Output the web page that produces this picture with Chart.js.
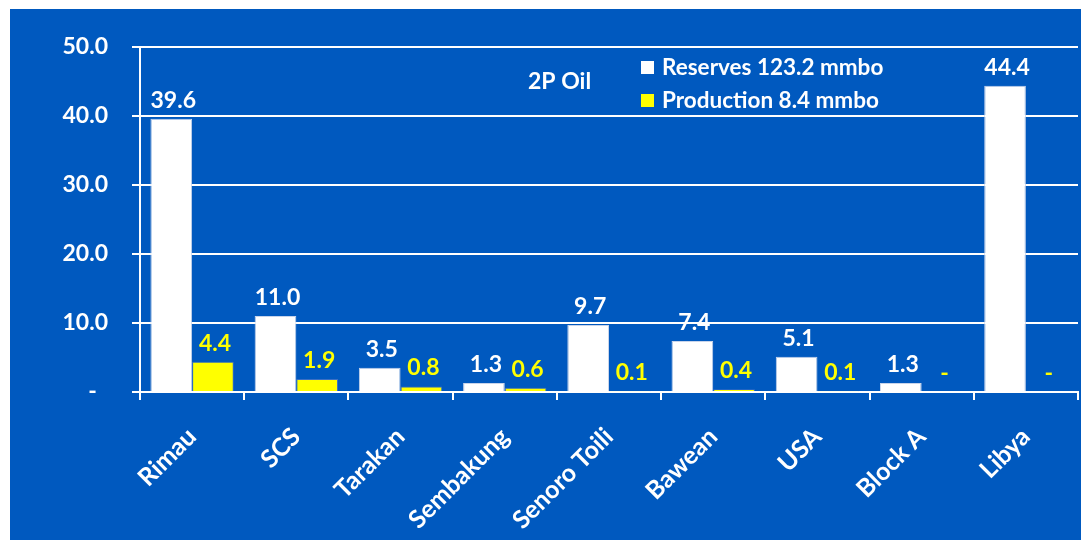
<!DOCTYPE html>
<html>
<head>
<meta charset="utf-8">
<script src="https://cdn.jsdelivr.net/npm/chart.js@4.4.0/dist/chart.umd.min.js"></script>
<style>
  html, body { margin: 0; padding: 0; background: #ffffff; }
  #wrap { position: absolute; left: 10px; top: 9px; width: 1071px; height: 531px; background: #0059BF; }
</style>
</head>
<body>
<div id="wrap"><canvas id="oilChart" width="1071" height="531"></canvas></div>
<script>
  const fields = ['Rimau', 'SCS', 'Tarakan', 'Sembakung', 'Senoro Toili', 'Bawean', 'USA', 'Block A', 'Libya'];
  const reserves = [39.6, 11.0, 3.5, 1.3, 9.7, 7.4, 5.1, 1.3, 44.4];
  const production = [4.4, 1.9, 0.8, 0.6, 0.1, 0.4, 0.1, 0, 0];
  const seriesNames = ['Reserves 123.2 mmbo', 'Production 8.4 mmbo'];
  const chartTitle = '2P Oil';

  const fontFamily = 'Lato, "Open Sans", sans-serif';

  // value labels above each bar, Excel style ("-" for zero)
  const valueLabels = {
    id: 'valueLabels',
    afterDatasetsDraw(chart) {
      const ctx = chart.ctx;
      ctx.save();
      ctx.font = 'bold 23px ' + fontFamily;
      ctx.textAlign = 'center';
      ctx.textBaseline = 'bottom';
      chart.data.datasets.forEach((ds, i) => {
        const meta = chart.getDatasetMeta(i);
        ctx.fillStyle = i === 0 ? '#ffffff' : '#ffff00';
        meta.data.forEach((bar, j) => {
          const v = ds.data[j];
          const txt = v === 0 ? '-' : v.toFixed(1);
          ctx.fillText(txt, bar.x + 2, bar.y - 7);
        });
      });
      ctx.restore();
    }
  };

  // legend and title drawn inside the plot area
  const innerLegend = {
    id: 'innerLegend',
    afterDraw(chart) {
      const ctx = chart.ctx;
      const area = chart.chartArea;
      ctx.save();
      ctx.font = 'bold 23px ' + fontFamily;
      ctx.textBaseline = 'middle';
      ctx.fillStyle = '#ffffff';
      ctx.fillText(chartTitle, area.left + 388, area.top + 35);
      ctx.font = 'bold 22.5px ' + fontFamily;
      chart.data.datasets.forEach((ds, i) => {
        const y = area.top + 21 + i * 33;
        ctx.fillStyle = ds.backgroundColor;
        ctx.fillRect(area.left + 501, y - 7, 13, 13);
        ctx.fillStyle = '#ffffff';
        ctx.fillText(ds.label, area.left + 522, y);
      });
      ctx.restore();
    }
  };

  new Chart(document.getElementById('oilChart'), {
    type: 'bar',
    data: {
      labels: fields,
      datasets: [
        { label: seriesNames[0], data: reserves, backgroundColor: '#ffffff', borderColor: '#c8d4ea', borderWidth: 1 },
        { label: seriesNames[1], data: production, backgroundColor: '#ffff00', borderColor: '#3a6fc4', borderWidth: 1 }
      ]
    },
    options: {
      responsive: false,
      animation: false,
      categoryPercentage: 0.8,
      barPercentage: 1.0,
      layout: { padding: { top: 38, right: 3, left: 0, bottom: 0 } },
      plugins: {
        legend: { display: false },
        tooltip: { enabled: false }
      },
      scales: {
        x: {
          grid: { display: true, drawOnChartArea: false, color: '#ffffff', lineWidth: 2, tickLength: 8, offset: true },
          border: { color: '#ffffff', width: 2 },
          ticks: {
            color: '#ffffff',
            font: { family: fontFamily, size: 25, weight: 'bold' },
            maxRotation: 45,
            minRotation: 45,
            autoSkip: false,
            padding: 22
          },
          afterFit(scale) { scale.height = 148; }
        },
        y: {
          min: 0,
          max: 50,
          grid: { color: '#ffffff', lineWidth: 2, tickLength: 8 },
          border: { color: '#ffffff', width: 2 },
          ticks: {
            stepSize: 10,
            color: '#ffffff',
            padding: 24,
            font: { family: fontFamily, size: 23, weight: 'bold' },
            callback: v => v === 0 ? '-  ' : v.toFixed(1)
          },
          afterFit(scale) { scale.width = 130; }
        }
      }
    },
    plugins: [valueLabels, innerLegend]
  });
</script>
</body>
</html>
